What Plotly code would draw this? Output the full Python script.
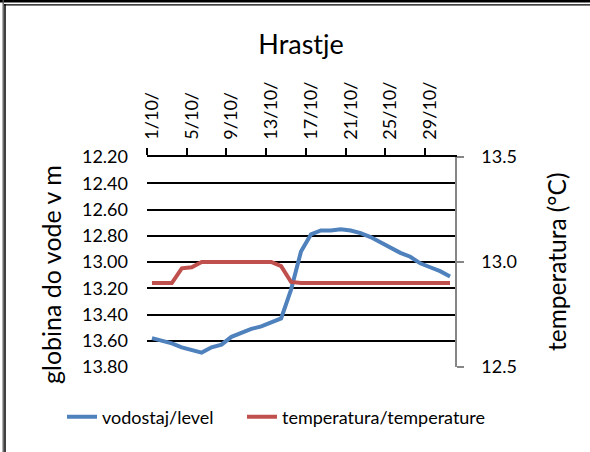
import plotly.graph_objects as go

# ---- data ----
day = [1, 2, 3, 4, 5, 6, 7, 8, 9, 10, 11, 12, 13, 14, 15, 16,
       17, 18, 19, 20, 21, 22, 23, 24, 25, 26, 27, 28, 29, 30, 31]
tick_days = [1, 5, 9, 13, 17, 21, 25, 29]
tick_labels = ["1/10/", "5/10/", "9/10/", "13/10/", "17/10/", "21/10/", "25/10/", "29/10/"]
level = [13.58, 13.60, 13.62, 13.65, 13.67, 13.69, 13.65, 13.63, 13.57, 13.54,
         13.51, 13.49, 13.46, 13.43, 13.21, 12.92, 12.79, 12.76, 12.76, 12.75,
         12.76, 12.78, 12.81, 12.85, 12.89, 12.93, 12.96, 13.01, 13.04, 13.07, 13.11]
temperature = [12.90, 12.90, 12.90, 12.97, 12.975, 13.0, 13.0, 13.0, 13.0, 13.0,
               13.0, 13.0, 13.0, 12.98, 12.905, 12.90, 12.90, 12.90, 12.90, 12.90,
               12.90, 12.90, 12.90, 12.90, 12.90, 12.90, 12.90, 12.90, 12.90, 12.90, 12.90]
level_ticks = [12.2, 12.4, 12.6, 12.8, 13.0, 13.2, 13.4, 13.6, 13.8]
temp_ticks = [12.5, 13.0, 13.5]

FONT = "Lato"
W, H = 590, 452
L, R, T, B = 147, 135, 157, 85
PW, PH = W - L - R, H - T - B


def px(x):
    return (x - L) / PW


def py(y):
    return 1 - (y - T) / PH


fig = go.Figure()
fig.add_trace(go.Scatter(x=day, y=level, mode="lines", name="vodostaj/level",
                         line=dict(color="#4F81BD", width=4), yaxis="y", legend="legend"))
fig.add_trace(go.Scatter(x=day, y=temperature, mode="lines", name="temperatura/temperature",
                         line=dict(color="#C0504D", width=4), yaxis="y2", legend="legend2"))

leg_common = dict(orientation="h", xanchor="left", yanchor="middle",
                  font=dict(family=FONT, size=18), bgcolor="rgba(0,0,0,0)")

fig.update_layout(
    width=W, height=H,
    margin=dict(l=L, r=R, t=T, b=B, autoexpand=False),
    paper_bgcolor="white", plot_bgcolor="white",
    font=dict(family=FONT, color="black", size=18),
    title=dict(text="Hrastje", x=0.5, xref="paper", xanchor="center",
               y=1 - 45 / H, yref="container", yanchor="middle",
               font=dict(family=FONT, size=27, color="black")),
    xaxis=dict(range=[0.5, 31.5], side="top", tickmode="array",
               tickvals=tick_days, ticktext=tick_labels, tickangle=-90,
               ticks="", ticklabelstandoff=12,
               minor=dict(tickvals=[0.5, 4.5, 8.5, 12.5, 16.5, 20.5, 24.5, 28.5],
                          ticks="outside", ticklen=7, tickwidth=1.5, tickcolor="black"),
               showline=True, linecolor="black", linewidth=1.5,
               showgrid=False, zeroline=False,
               tickfont=dict(family=FONT, size=18)),
    yaxis=dict(range=[13.8, 12.2], tickmode="array", tickvals=level_ticks,
               tickformat=".2f", ticks="", ticklabelstandoff=18,
               showgrid=True, gridcolor="black", gridwidth=1.5,
               showline=False, zeroline=False,
               tickfont=dict(family=FONT, size=18)),
    yaxis2=dict(range=[12.5, 13.5], overlaying="y", side="right", anchor="x",
                tickmode="array", tickvals=temp_ticks, tickformat=".1f",
                ticks="outside", ticklen=7, tickwidth=1.5, tickcolor="#868686",
                ticklabelstandoff=14,
                showline=True, linecolor="#868686", linewidth=1.5,
                showgrid=False, zeroline=False,
                tickfont=dict(family=FONT, size=18)),
    legend=dict(x=px(62), y=py(417), **leg_common),
    legend2=dict(x=px(242), y=py(417), **leg_common),
    showlegend=True,
    annotations=[
        dict(text="globina do vode v m", x=px(51), y=py(275), xref="paper", yref="paper",
             textangle=-90, showarrow=False, xanchor="center", yanchor="middle",
             font=dict(family=FONT, size=25, color="black")),
        dict(text="temperatura (°C)", x=px(556), y=py(262), xref="paper", yref="paper",
             textangle=-90, showarrow=False, xanchor="center", yanchor="middle",
             font=dict(family=FONT, size=24.5, color="black")),
    ],
    shapes=[
        dict(type="line", xref="paper", yref="paper", x0=px(0), x1=px(W), y0=py(1.3), y1=py(1.3),
             line=dict(color="black", width=2.5)),
        dict(type="line", xref="paper", yref="paper", x0=px(4), x1=px(W), y0=py(4.8), y1=py(4.8),
             line=dict(color="black", width=1.3)),
        dict(type="line", xref="paper", yref="paper", x0=px(3.2), x1=px(3.2), y0=py(0), y1=py(H),
             line=dict(color="#555555", width=1.3)),
        dict(type="line", xref="paper", yref="paper", x0=px(5), x1=px(5), y0=py(4), y1=py(H),
             line=dict(color="black", width=1.5)),
    ],
)

fig.write_html(
    "out.html", config={"displayModeBar": False},
    post_script=("document.body.style.margin='0';document.body.style.padding='0';"
                 "document.body.style.overflow='hidden';"
                 "document.documentElement.style.overflow='hidden';"))
